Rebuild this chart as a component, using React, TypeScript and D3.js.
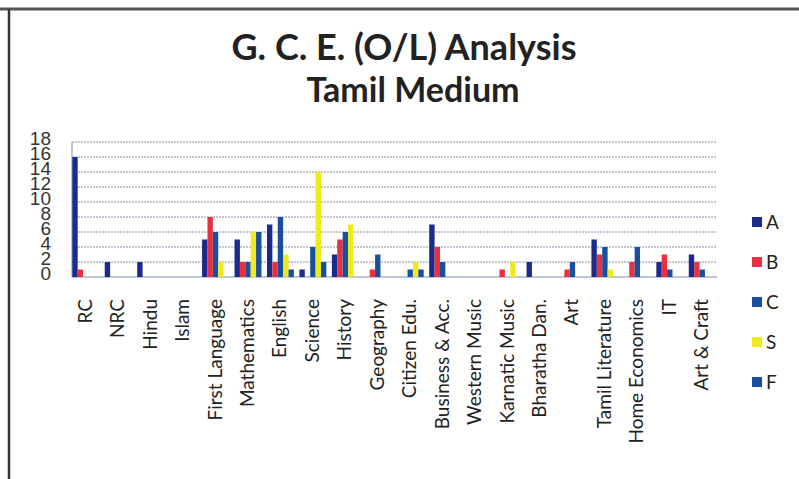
import React, { useEffect, useRef } from 'react';
import * as d3 from 'd3';

const CATEGORIES = [
  'RC', 'NRC', 'Hindu', 'Islam', 'First Language', 'Mathematics', 'English',
  'Science', 'History', 'Geography', 'Citizen Edu.', 'Business & Acc.',
  'Western Music', 'Karnatic Music', 'Bharatha Dan.', 'Art', 'Tamil Literature',
  'Home Economics', 'IT', 'Art & Craft',
];
const SERIES = ['A', 'B', 'C', 'S', 'F'];
const A_VALUES = [16, 2, 2, 0, 5, 5, 7, 1, 3, 0, 0, 7, 0, 0, 2, 0, 5, 0, 2, 3];
const B_VALUES = [1, 0, 0, 0, 8, 2, 2, 0, 5, 1, 0, 4, 0, 1, 0, 1, 3, 2, 3, 2];
const C_VALUES = [0, 0, 0, 0, 6, 2, 8, 4, 6, 3, 1, 2, 0, 0, 0, 2, 4, 4, 1, 1];
const S_VALUES = [0, 0, 0, 0, 2, 6, 3, 14, 7, 0, 2, 0, 0, 2, 0, 0, 1, 0, 0, 0];
const F_VALUES = [0, 0, 0, 0, 0, 6, 1, 2, 0, 0, 1, 0, 0, 0, 0, 0, 0, 0, 0, 0];
const Y_TICKS = [0, 2, 4, 6, 8, 10, 12, 14, 16, 18];

const COLORS = ['#1b2a8c', '#e8303e', '#1a4f9e', '#eeea1c', '#1a4f9e'];

const WIDTH = 799;
const HEIGHT = 479;

const App = () => {
  const svgRef = useRef<SVGSVGElement>(null);

  useEffect(() => {
    const svg = d3.select(svgRef.current);
    svg.selectAll('*').remove();

    const values = [A_VALUES, B_VALUES, C_VALUES, S_VALUES, F_VALUES];
    const rows = CATEGORIES.map((cat, i) => ({
      cat,
      vals: SERIES.map((s, j) => ({ s, j, v: values[j][i] })),
    }));

    const x0 = d3.scaleBand().domain(CATEGORIES).range([71, 717]).paddingInner(0.17).paddingOuter(0.04);
    const x1 = d3.scaleBand().domain(SERIES).range([0, x0.bandwidth()]).padding(0);
    const y = d3.scaleLinear().domain([0, 18]).range([277, 142]);

    // frame
    svg.append('line').attr('x1', 0).attr('x2', WIDTH).attr('y1', 9).attr('y2', 9)
      .attr('stroke', '#555').attr('stroke-width', 3);
    svg.append('line').attr('x1', 9).attr('x2', 9).attr('y1', 9).attr('y2', HEIGHT)
      .attr('stroke', '#333').attr('stroke-width', 2.5);

    // title
    svg.append('text').attr('x', 404).attr('y', 60).attr('text-anchor', 'middle')
      .style('font-family', 'Lato, sans-serif').style('font-weight', 700).style('font-size', '36px')
      .attr('fill', '#222').text('G. C. E. (O/L) Analysis');
    svg.append('text').attr('x', 413).attr('y', 102).attr('text-anchor', 'middle')
      .style('font-family', 'Lato, sans-serif').style('font-weight', 700).style('font-size', '34px')
      .attr('fill', '#222').text('Tamil Medium');

    // grid
    svg.append('g').selectAll('line').data(Y_TICKS.filter(t => t > 0)).enter().append('line')
      .attr('x1', 72).attr('x2', 717).attr('y1', d => y(d)).attr('y2', d => y(d))
      .attr('stroke', '#858fa6').attr('stroke-width', 1).attr('stroke-dasharray', '2,1');
    svg.append('line').attr('x1', 72).attr('x2', 717).attr('y1', y(0)).attr('y2', y(0))
      .attr('stroke', '#a8b4cc').attr('stroke-width', 1.5);
    svg.append('line').attr('x1', 72).attr('x2', 72).attr('y1', y(18)).attr('y2', y(0))
      .attr('stroke', '#a8b4cc').attr('stroke-width', 1.5);

    // y labels
    svg.append('g').selectAll('text').data(Y_TICKS).enter().append('text')
      .attr('x', 51).attr('y', d => y(d) + 3).attr('text-anchor', 'end')
      .style('font-family', '"Liberation Sans", sans-serif').style('font-size', '19px')
      .attr('fill', '#333').text(d => d);

    // bars
    const groups = svg.append('g').selectAll('g').data(rows).enter().append('g')
      .attr('transform', d => `translate(${x0(d.cat)},0)`);
    groups.selectAll('rect').data(d => d.vals.filter(v => v.v > 0)).enter().append('rect')
      .attr('x', d => x1(d.s) as number)
      .attr('width', x1.bandwidth())
      .attr('y', d => y(d.v))
      .attr('height', d => y(0) - y(d.v))
      .attr('fill', d => COLORS[d.j]);

    // x labels
    svg.append('g').selectAll('text').data(CATEGORIES).enter().append('text')
      .attr('transform', d => `translate(${(x0(d) as number) + x0.bandwidth() / 2 + 6},299) rotate(-90)`)
      .attr('text-anchor', 'end')
      .style('font-family', 'Lato, sans-serif').style('font-size', '19px')
      .attr('fill', '#222').text(d => d);

    // legend
    const legend = svg.append('g').selectAll('g').data(SERIES).enter().append('g')
      .attr('transform', (d, i) => `translate(752,${222 + i * 40})`);
    legend.append('rect').attr('x', 0).attr('y', -5).attr('width', 10).attr('height', 10)
      .attr('fill', (d, i) => COLORS[i]);
    legend.append('text').attr('x', 14).attr('y', 7)
      .style('font-family', 'Lato, sans-serif').style('font-size', '19px')
      .attr('fill', '#222').text(d => d);
  }, []);

  return (
    <div style={{ position: 'absolute', left: 0, top: 0 }}>
      <svg ref={svgRef} width={WIDTH} height={HEIGHT} style={{ display: 'block', background: '#fff' }}></svg>
    </div>
  );
};

export default App;
